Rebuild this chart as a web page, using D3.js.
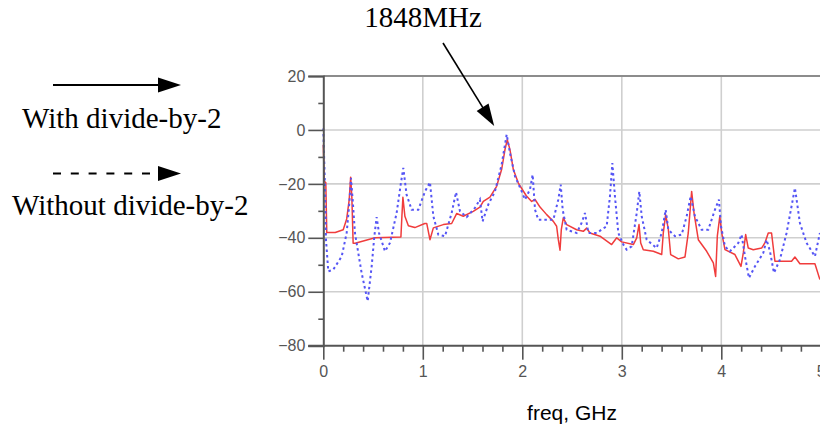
<!DOCTYPE html>
<html>
<head>
<meta charset="utf-8">
<script src="https://cdn.jsdelivr.net/npm/d3@7"></script>
<style>
  body { margin: 0; background: #fff; }
  svg { display: block; }
</style>
</head>
<body>
<div id="chart"></div>
<script>
// spectrum, with divide-by-2 (red solid) [freq GHz, dB]
const withDiv = [
  [0, -5.5], [0.01, -19], [0.025, -19.5], [0.035, -38], [0.12, -38], [0.2, -37], [0.235, -33],
  [0.26, -26], [0.275, -17.5], [0.287, -25], [0.3, -42], [0.32, -42], [0.52, -40], [0.78, -39.7],
  [0.79, -32], [0.8, -25], [0.82, -32], [0.855, -35.5], [0.92, -36.2], [1.02, -34.7], [1.04, -34.7],
  [1.072, -40.7], [1.106, -36.3], [1.206, -35.1], [1.29, -34.7], [1.34, -31], [1.407, -32],
  [1.507, -30.2], [1.574, -28.6], [1.608, -26.5], [1.675, -24.9], [1.742, -20.9], [1.792, -14.7],
  [1.826, -7.3], [1.849, -3.6], [1.876, -7.3], [1.91, -14.7], [1.96, -19.7], [2.04, -24.4],
  [2.094, -26.5], [2.128, -25.8], [2.178, -28.6], [2.245, -31.4], [2.312, -33.9], [2.345, -35.7],
  [2.362, -40.7], [2.379, -44.6], [2.392, -37], [2.412, -32.6], [2.446, -35.1], [2.546, -37],
  [2.613, -37.6], [2.647, -36.4], [2.68, -38.2], [2.781, -39.4], [2.898, -42.5], [2.949, -40],
  [2.999, -41.5], [3.116, -42.5], [3.15, -40], [3.173, -35.1], [3.19, -41.9], [3.216, -44.4],
  [3.317, -45], [3.401, -46.2], [3.417, -38.2], [3.441, -31.4], [3.468, -37], [3.491, -46.2],
  [3.568, -47.8], [3.635, -47.1], [3.668, -38.2], [3.702, -22.8], [3.726, -30.8], [3.769, -40.7],
  [3.853, -45], [3.92, -49.3], [3.943, -54.3], [3.96, -39.4], [3.985, -32], [4.004, -38.2],
  [4.037, -44.4], [4.137, -46.2], [4.198, -50.6], [4.221, -45.6], [4.245, -38.8], [4.271, -43.8],
  [4.321, -44.4], [4.405, -43.8], [4.438, -41.9], [4.472, -38.2], [4.505, -38.2], [4.539, -48.7],
  [4.706, -48.7], [4.74, -47.1], [4.79, -49.6], [4.941, -49.6], [4.991, -55.5]
];

// spectrum, without divide-by-2 (blue dotted)
const withoutDiv = [
  [0, 0.5], [0.008, -10], [0.017, -21], [0.027, -40.7], [0.05, -52.4], [0.1, -51.8], [0.185, -46.9],
  [0.235, -38.2], [0.262, -27], [0.278, -17.8], [0.295, -25.8], [0.318, -38.2], [0.385, -53],
  [0.446, -63.5], [0.486, -50.6], [0.513, -39.4], [0.536, -32.3], [0.56, -38.2], [0.62, -45],
  [0.67, -41.9], [0.737, -30.8], [0.78, -19.7], [0.804, -14.1], [0.837, -24], [0.888, -29.6],
  [0.955, -29.6], [1.022, -22.8], [1.072, -19.4], [1.106, -32], [1.156, -38.8], [1.223, -39.4],
  [1.29, -30.8], [1.334, -23.1], [1.374, -30.2], [1.441, -32.3], [1.524, -28.9], [1.574, -25.8],
  [1.601, -33.9], [1.658, -27.7], [1.725, -22.8], [1.792, -12.9], [1.843, -1.7], [1.876, -8.5],
  [1.927, -17.2], [1.994, -22.8], [2.027, -25.8], [2.077, -22.1], [2.104, -16.6], [2.128, -29.6],
  [2.161, -33.3], [2.312, -33.3], [2.362, -25.8], [2.386, -20.3], [2.406, -29.6], [2.446, -37],
  [2.546, -38.2], [2.596, -34.5], [2.63, -30.8], [2.664, -38.2], [2.748, -38.2], [2.848, -35.7],
  [2.881, -24.6], [2.905, -12.3], [2.931, -24.6], [2.965, -38.2], [3.015, -42.5], [3.049, -44.4],
  [3.099, -43.2], [3.15, -30.8], [3.176, -22.8], [3.2, -32], [3.25, -40.7], [3.35, -43.8],
  [3.401, -38.2], [3.441, -29.6], [3.468, -37], [3.535, -39.4], [3.602, -38.8], [3.652, -32],
  [3.692, -24.6], [3.735, -32], [3.802, -37], [3.869, -37], [3.936, -29.6], [3.976, -25.8],
  [3.997, -35.7], [4.037, -43.2], [4.087, -45], [4.171, -41.9], [4.204, -38.8], [4.238, -46.9],
  [4.278, -54.9], [4.338, -50.6], [4.422, -45.6], [4.455, -40.7], [4.489, -45], [4.529, -53],
  [4.589, -48.1], [4.656, -38.2], [4.706, -28.3], [4.74, -21.5], [4.79, -34.5], [4.857, -41.9],
  [4.941, -46.9], [4.991, -38.2]
];

const xTicks = [0, 1, 2, 3, 4, 5];
const yTicks = [20, 0, -20, -40, -60, -80];
const xLabel = "freq, GHz";
const peakLabel = "1848MHz";
const peakFreq = 1.848;
const legendLabels = ["With divide-by-2", "Without divide-by-2"];

const width = 820, height = 427;
const plotLeft = 323.3, plotTop = 76, plotBottom = 345.7;
const tickFont = "16px Arial, 'Liberation Sans', sans-serif";

let svg = d3.select("#chart").append("svg")
    .attr("width", width)
    .attr("height", height);

let xScale = d3.scaleLinear().domain([0, 5]).range([plotLeft, plotLeft + 5 * 99.5]);
let yScale = d3.scaleLinear().domain([-80, 20]).range([plotBottom, plotTop]);

// grid
svg.append("g").selectAll("line")
    .data(yTicks.filter(d => d > -80 && d < 20))
    .enter().append("line")
    .attr("x1", plotLeft).attr("x2", width)
    .attr("y1", d => yScale(d)).attr("y2", d => yScale(d))
    .attr("stroke", "#cfcfcf").attr("stroke-width", 1.6);
svg.append("g").selectAll("line")
    .data(xTicks.filter(d => d > 0))
    .enter().append("line")
    .attr("x1", d => xScale(d)).attr("x2", d => xScale(d))
    .attr("y1", plotTop).attr("y2", plotBottom)
    .attr("stroke", "#cfcfcf").attr("stroke-width", 1.6);
// top frame
svg.append("line")
    .attr("x1", plotLeft).attr("x2", width)
    .attr("y1", yScale(20)).attr("y2", yScale(20))
    .attr("stroke", "#8c8c8c").attr("stroke-width", 2);

// curves
const line = d3.line().x(d => xScale(d[0])).y(d => yScale(d[1]));
svg.append("path")
    .datum(withDiv)
    .attr("d", line)
    .attr("fill", "none")
    .attr("stroke", "#f03c3c")
    .attr("stroke-width", 1.5)
    .attr("stroke-linejoin", "round");
svg.append("path")
    .datum(withoutDiv)
    .attr("d", line)
    .attr("fill", "none")
    .attr("stroke", "#5555f5")
    .attr("stroke-width", 2)
    .attr("stroke-dasharray", "2.5,3");

// axes
let yAxis = d3.axisLeft(yScale)
    .tickValues(yTicks)
    .tickSize(15)
    .tickPadding(3);
let gy = svg.append("g").attr("transform", `translate(${plotLeft},0)`).call(yAxis);
gy.select(".domain").attr("stroke", "#555").attr("stroke-width", 2);
gy.selectAll(".tick line").attr("stroke", "#555").attr("stroke-width", 1.6);
gy.selectAll("text").attr("fill", "#555").style("font", tickFont);

let yMinor = d3.axisLeft(yScale)
    .tickValues(d3.range(-70, 20, 20))
    .tickSize(5)
    .tickFormat("");
let gym = svg.append("g").attr("transform", `translate(${plotLeft},0)`).call(yMinor);
gym.select(".domain").remove();
gym.selectAll(".tick line").attr("stroke", "#555").attr("stroke-width", 1.6);

let xAxis = d3.axisBottom(xScale)
    .tickValues(xTicks)
    .tickFormat(d3.format("d"))
    .tickSize(14)
    .tickPadding(6);
let gx = svg.append("g").attr("transform", `translate(0,${plotBottom})`).call(xAxis);
gx.select(".domain").remove();
gx.selectAll(".tick line").attr("stroke", "#555").attr("stroke-width", 1.6);
gx.selectAll("text").attr("fill", "#555").style("font", tickFont);
svg.append("line")
    .attr("x1", plotLeft - 15).attr("x2", width)
    .attr("y1", plotBottom).attr("y2", plotBottom)
    .attr("stroke", "#555").attr("stroke-width", 2);

let xMinor = d3.axisBottom(xScale)
    .tickValues(d3.range(0, 25).map(i => i * 0.2).filter(d => Math.abs(d - Math.round(d)) > 0.01))
    .tickSize(6)
    .tickFormat("");
let gxm = svg.append("g").attr("transform", `translate(0,${plotBottom})`).call(xMinor);
gxm.select(".domain").remove();
gxm.selectAll(".tick line").attr("stroke", "#555").attr("stroke-width", 1.6);

svg.append("text")
    .attr("x", xScale(2.5)).attr("y", 419.5)
    .attr("text-anchor", "middle")
    .style("font", "21px Arial, 'Liberation Sans', sans-serif")
    .attr("fill", "#000")
    .text(xLabel);

// legend arrows and labels
const serif = "29px 'Times New Roman', 'Liberation Serif', serif";
function arrowHead(tipX, tipY, angle, len, half) {
    const ca = Math.cos(angle), sa = Math.sin(angle);
    const bx = tipX - len * ca, by = tipY - len * sa;
    return `M${tipX},${tipY}L${bx - half * sa},${by + half * ca}L${bx + half * sa},${by - half * ca}Z`;
}
svg.append("line").attr("x1", 53).attr("x2", 160).attr("y1", 85).attr("y2", 85)
    .attr("stroke", "#000").attr("stroke-width", 1.8);
svg.append("path").attr("d", arrowHead(181, 85, 0, 23, 7.5)).attr("fill", "#000");
svg.append("text").attr("x", 22).attr("y", 128).style("font", serif).text(legendLabels[0]);

svg.append("line").attr("x1", 53).attr("x2", 150).attr("y1", 173.5).attr("y2", 173.5)
    .attr("stroke", "#000").attr("stroke-width", 2).attr("stroke-dasharray", "8,9.8");
svg.append("path").attr("d", arrowHead(181, 173.5, 0, 23, 7.5)).attr("fill", "#000");
svg.append("text").attr("x", 12).attr("y", 215).style("font", serif).text(legendLabels[1]);

// peak annotation
const tipX = xScale(peakFreq) - 13, tipY = 126;
const ang = Math.atan2(tipY - 43, tipX - 443);
svg.append("line").attr("x1", 443).attr("y1", 43)
    .attr("x2", tipX - 18 * Math.cos(ang)).attr("y2", tipY - 18 * Math.sin(ang))
    .attr("stroke", "#000").attr("stroke-width", 1.6);
svg.append("path").attr("d", arrowHead(tipX, tipY, ang, 22, 7)).attr("fill", "#000");
svg.append("text").attr("x", 423).attr("y", 27).attr("text-anchor", "middle")
    .style("font", serif).text(peakLabel);
</script>
</body>
</html>
